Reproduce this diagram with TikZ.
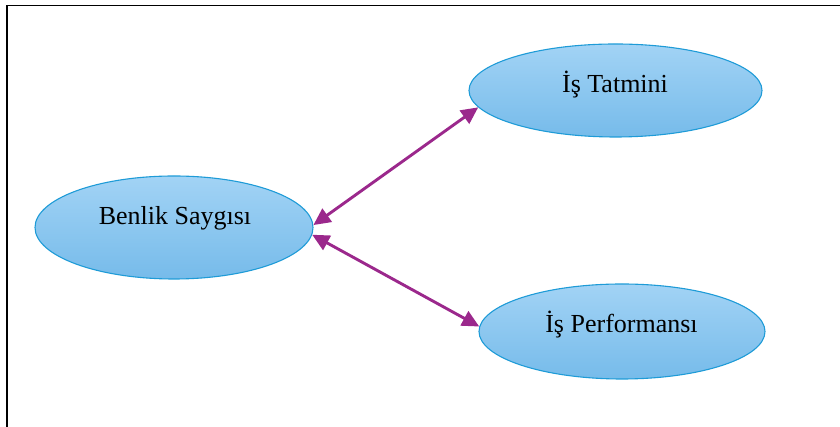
\documentclass[tikz,border=0pt]{standalone}
\usepackage{fontspec}
\setmainfont{Liberation Serif}
\usetikzlibrary{shapes.geometric,arrows.meta}
\definecolor{bord}{RGB}{30,155,215}
\definecolor{ftop}{RGB}{162,211,245}
\definecolor{fbot}{RGB}{118,187,234}
\definecolor{arr}{RGB}{155,40,140}
\begin{document}
\begin{tikzpicture}[x=1pt,y=1pt,
  bubble/.style={ellipse,draw=bord,line width=1.1pt,top color=ftop,bottom color=fbot,inner sep=0pt},
  lbl/.style={font=\fontsize{26}{30}\selectfont,anchor=base,inner sep=0pt},
  link/.style={draw=arr,line width=2.9pt,{Triangle[length=17pt,width=16pt]}-{Triangle[length=17pt,width=16pt]}}]
\useasboundingbox (0,0) rectangle (840,427);
\coordinate (fa) at (7,0);
\coordinate (fb) at (7,421.5);
\coordinate (fc) at (840,421.5);
\draw[line width=1.8pt] (fa) -- (fb) -- (fc);
\node[bubble,minimum width=278pt,minimum height=103pt] (bs) at (174,199.5) {};
\node[lbl] (bst) at (175,202) {Benlik Saygısı};
\node[bubble,minimum width=293pt,minimum height=93pt] (it) at (615.5,336.5) {};
\node[lbl] (itt) at (615,334) {İş Tatmini};
\node[bubble,minimum width=286pt,minimum height=95pt] (ip) at (622,95.5) {};
\node[lbl] (ipt) at (621.5,94) {İş Performansı};
\draw[link] (bs.1) -- (it.187.8);
\draw[link] (bs.-3) -- (ip.178.6);
\end{tikzpicture}
\end{document}
